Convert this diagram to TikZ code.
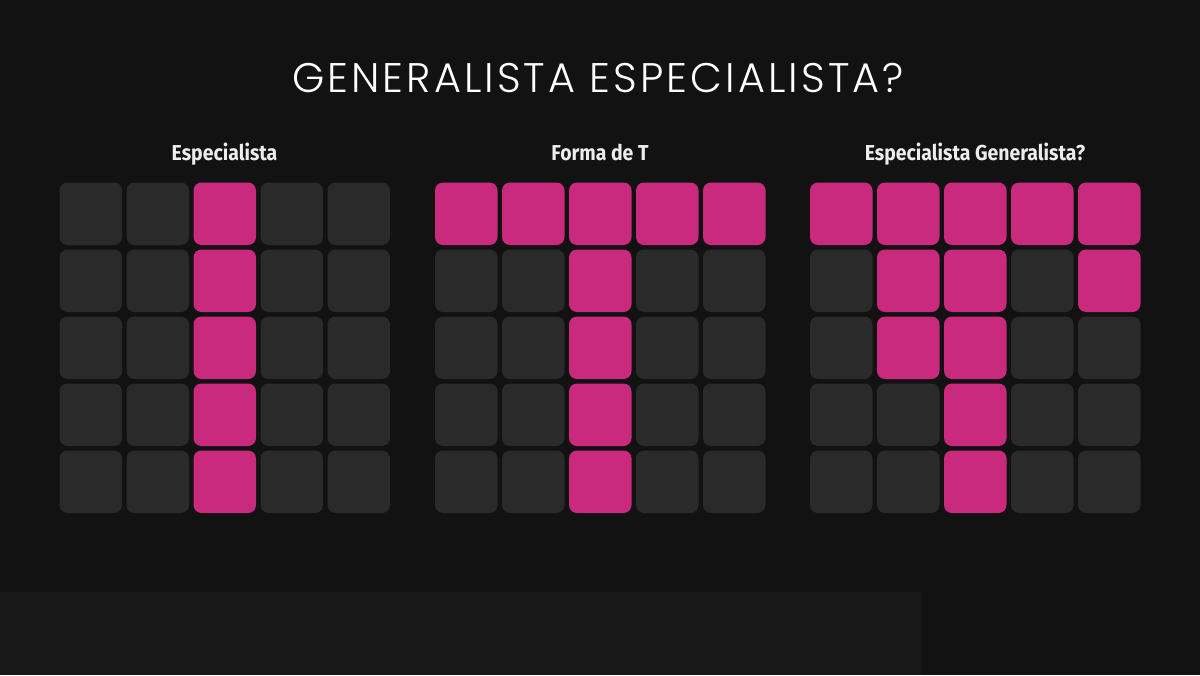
\documentclass[tikz,border=0pt]{standalone}
\usepackage{fontspec}
\newfontfamily\titlefont{Poppins}[UprightFont={* Light},LetterSpace=7.5]
\newfontfamily\subfont{Fira Sans}[FakeStretch=0.9]
\definecolor{bg}{HTML}{121212}
\definecolor{panel}{HTML}{181818}
\definecolor{cellgray}{HTML}{2A2A2A}
\definecolor{pinkcell}{HTML}{C92A7D}
\def\patA{{0,0,1,0,0, 0,0,1,0,0, 0,0,1,0,0, 0,0,1,0,0, 0,0,1,0,0}}
\def\patB{{1,1,1,1,1, 0,0,1,0,0, 0,0,1,0,0, 0,0,1,0,0, 0,0,1,0,0}}
\def\patC{{1,1,1,1,1, 0,1,1,0,1, 0,1,1,0,0, 0,0,1,0,0, 0,0,1,0,0}}
\begin{document}
\begin{tikzpicture}[x=0.75pt,y=-0.75pt,
  cell/.style={minimum size=46.875pt,inner sep=0pt,rounded corners=6pt,draw=none},
  titletext/.style={text=white,font=\titlefont\fontsize{31}{36}\selectfont,inner sep=0pt,anchor=base},
  subtext/.style={text=white!93!black,font=\subfont\bfseries\fontsize{16.2}{19}\selectfont,inner sep=0pt,anchor=base}]
\fill[bg] (0,0) rectangle (1200,675);
\useasboundingbox (0,0) rectangle (1200,675);
\fill[panel] (0,592) rectangle (922,675);
\node[titletext] (title) at (598,92.7) {GENERALISTA ESPECIALISTA?};
\node[subtext] (s1) at (224.5,160) {Especialista};
\node[subtext] (s2) at (600,160) {Forma de T};
\node[subtext] (s3) at (975,160) {Especialista Generalista?};
\foreach \g/\ox/\pat in {1/59.5/\patA, 2/435/\patB, 3/810/\patC}{
  \foreach \r in {0,...,4}{
    \foreach \c in {0,...,4}{
      \pgfmathtruncatemacro\v{\pat[\r*5+\c]}
      \ifnum\v=1 \def\col{pinkcell}\else\def\col{cellgray}\fi
      \node[cell,fill=\col] (g\g r\r c\c) at (\ox+31.25+67*\c,213.75+67*\r) {};
    }
  }
}
\end{tikzpicture}
\end{document}
